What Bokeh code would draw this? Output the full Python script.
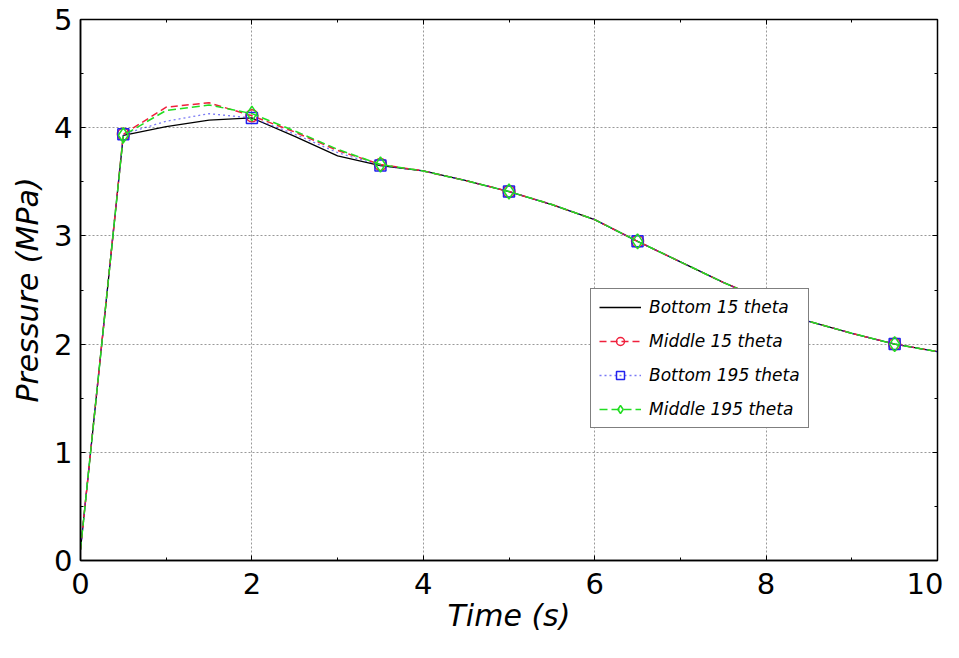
from bokeh.plotting import figure
from bokeh.models import LinearAxis, Range1d, Legend, LegendItem, SingleIntervalTicker
from bokeh.embed import file_html
from bokeh.resources import INLINE

# ---- data ----
time_s = [0, 0.5, 1, 1.5, 2, 2.5, 3, 3.5, 4, 4.5, 5, 5.5, 6, 6.5, 7, 7.5, 8, 8.5, 9, 9.5, 10]
bottom_15 = [0.10, 3.93, 4.01, 4.07, 4.09, 3.92, 3.74, 3.65, 3.60, 3.51, 3.41, 3.29, 3.15, 2.95, 2.76, 2.57, 2.40, 2.21, 2.10, 2.00, 1.93]
middle_15 = [0.10, 3.94, 4.19, 4.23, 4.11, 3.96, 3.79, 3.66, 3.60, 3.51, 3.41, 3.29, 3.15, 2.95, 2.76, 2.57, 2.40, 2.21, 2.10, 2.00, 1.93]
bottom_195 = [0.10, 3.94, 4.06, 4.13, 4.09, 3.94, 3.77, 3.65, 3.60, 3.51, 3.41, 3.29, 3.15, 2.95, 2.76, 2.57, 2.40, 2.21, 2.10, 2.00, 1.93]
middle_195 = [0.10, 3.93, 4.16, 4.21, 4.13, 3.97, 3.80, 3.66, 3.60, 3.51, 3.41, 3.29, 3.15, 2.95, 2.76, 2.57, 2.40, 2.21, 2.10, 2.00, 1.93]
marker_idx = [1, 4, 7, 10, 13, 16, 19]

FONT = "DejaVu Sans"

p = figure(width=943, height=642, output_backend="svg", toolbar_location=None,
           x_range=Range1d(0, 10), y_range=Range1d(0, 5),
           min_border_left=80, min_border_right=6, min_border_top=19, min_border_bottom=82,
           background_fill_color="white", border_fill_color="white")
p.outline_line_color = "black"
p.outline_line_width = 1.5

p.xaxis.ticker = SingleIntervalTicker(interval=2, num_minor_ticks=2)
p.yaxis.ticker = SingleIntervalTicker(interval=1, num_minor_ticks=2)

for ax in (p.xaxis[0], p.yaxis[0]):
    ax.major_tick_in = 5
    ax.major_tick_out = 0
    ax.minor_tick_in = 3
    ax.minor_tick_out = 0
    ax.axis_line_color = "black"
    ax.axis_line_width = 1.5
    ax.major_label_text_font = FONT
    ax.major_label_text_font_size = "29px"
    ax.major_label_text_color = "black"
    ax.axis_label_text_font = FONT
    ax.axis_label_text_font_size = "30px"
    ax.axis_label_text_font_style = "italic"
    ax.axis_label_text_color = "black"

p.xaxis.axis_label = "Time (s)"
p.yaxis.axis_label = "Pressure (MPa)"
p.xaxis.major_label_standoff = 12
p.yaxis.major_label_standoff = 8
p.xaxis.axis_label_standoff = 1
p.yaxis.axis_label_standoff = 6

for loc in ("right", "above"):
    interval = 1 if loc == "right" else 2
    tk = SingleIntervalTicker(interval=interval, num_minor_ticks=2)
    ax = LinearAxis(ticker=tk, major_tick_in=5, major_tick_out=0,
                    minor_tick_in=3, minor_tick_out=0, major_label_standoff=0,
                    axis_line_color="black",
                    major_label_overrides={i: "" for i in range(0, 11)})
    p.add_layout(ax, loc)

p.xgrid.grid_line_color = "#999999"
p.ygrid.grid_line_color = "#999999"
p.xgrid.grid_line_dash = "2 2"
p.ygrid.grid_line_dash = "2 2"
p.xgrid.ticker = p.xaxis[0].ticker
p.ygrid.ticker = p.yaxis[0].ticker

mt = [time_s[i] for i in marker_idx]

RED = "#f0203c"
BLUE = "#2222ee"
GREEN = "#22dd22"

l1 = p.line(time_s, bottom_15, line_color="black", line_width=1.3)

l2 = p.line(time_s, middle_15, line_color=RED, line_width=1.5, line_dash="7 4")
m2 = p.scatter(mt, [middle_15[i] for i in marker_idx], marker="circle", size=12,
               fill_color=None, line_color=RED, line_width=1.5)

l3 = p.line(time_s, bottom_195, line_color=BLUE, line_width=1.3, line_dash="2 3", line_alpha=0.6)
m3 = p.scatter(mt, [bottom_195[i] for i in marker_idx], marker="square", size=11,
               fill_color=None, line_color=BLUE, line_width=1.5)

l4 = p.line(time_s, middle_195, line_color=GREEN, line_width=1.5, line_dash="8 4")
m4 = p.scatter(mt, [middle_195[i] for i in marker_idx], marker="diamond", size=15,
               fill_color=None, line_color=GREEN, line_width=1.5)

legend = Legend(items=[
    LegendItem(label="Bottom 15 theta", renderers=[l1]),
    LegendItem(label="Middle 15 theta", renderers=[l2, m2]),
    LegendItem(label="Bottom 195 theta", renderers=[l3, m3]),
    LegendItem(label="Middle 195 theta", renderers=[l4, m4]),
], location=(510, 132))
legend.label_text_font = FONT
legend.label_text_font_size = "17px"
legend.label_text_font_style = "italic"
legend.label_text_color = "black"
legend.glyph_width = 42
legend.glyph_height = 20
legend.label_height = 20
legend.spacing = 14
legend.padding = 8
legend.label_standoff = 8
legend.border_line_color = "black"
legend.border_line_width = 1.2
legend.background_fill_color = "white"
legend.background_fill_alpha = 1.0
p.add_layout(legend, "center")

open("out.html", "w").write(file_html(p, INLINE))
